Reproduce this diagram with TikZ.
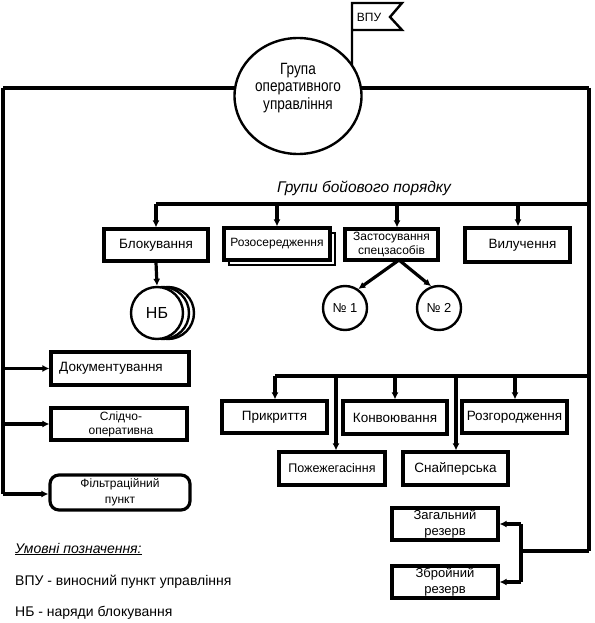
\documentclass[tikz,border=0pt]{standalone}
\usepackage{fontspec}
\setmainfont{Liberation Sans}
\usetikzlibrary{arrows.meta,shapes.geometric,calc}
\begin{document}
\begin{tikzpicture}[x=1pt,y=-1pt,
  line/.style={line width=3.2pt},
  arr/.style={line width=3.2pt,-{Latex[length=7pt,width=7pt]}},
  box/.style={draw,line width=3.2pt,fill=white,inner sep=1pt,align=center,
    font=\fontsize{13.5}{15}\selectfont},
  small/.style={font=\fontsize{12}{14}\selectfont},
  ring/.style={draw,circle,line width=2.4pt,fill=white,inner sep=0pt},
  legend/.style={anchor=west,inner sep=0pt,font=\fontsize{14}{16}\selectfont}
]
\useasboundingbox (0,0) rectangle (594,623);

% main top line
\coordinate (tl) at (3,88);
\coordinate (tr) at (589,88);
\draw[line] (tl) -- (tr);

% flag
\draw[line width=2.4pt] (352,66) -- (352,3) -- (402,3) -- (390,17) -- (402,30) -- (352,30);
\node[font=\fontsize{12}{14}\selectfont,inner sep=0pt] (vpu) at (369,17) {ВПУ};

% main circle
\node[draw,ellipse,line width=2.4pt,fill=white,minimum width=127pt,minimum height=116pt,inner sep=0pt] (cg) at (298,96) {};
\node[align=center,inner sep=0pt,yscale=1.2,transform shape,font=\fontsize{13.6}{14.5}\selectfont] (cgt) at (298,88) {Група\\оперативного\\управління};

% left and right trunks
\coordinate (lb) at (3,494);
\coordinate (rb) at (589,551);
\draw[line] (tl) -- (lb);
\draw[line] (tr) -- (rb);

% group label
\node[font=\itshape\fontsize{15.5}{17}\selectfont,inner sep=0pt] (gbp) at (364,188) {Групи бойового порядку};

% group bus
\coordinate (g1) at (156,204);
\coordinate (g2) at (589,204);
\draw[line] (g1) -- (g2);

% upper row boxes
\node[box,minimum width=104pt,minimum height=32pt] (blk) at (156,245) {Блокування};
\node[draw,line width=2.4pt,fill=white,minimum width=106pt,minimum height=32pt] (rozs) at (282,249) {};
\node[box,minimum width=106pt,minimum height=32pt,small] (roz) at (277,244) {Розосередження};
\node[box,minimum width=93pt,minimum height=31pt,font=\fontsize{12}{14}\selectfont] (zas) at (391.5,244.5) {Застосування\\спецзасобів};
\node[box,minimum width=105pt,minimum height=34pt] (vyl) at (517.5,245) {\hspace*{10pt}Вилучення};

\draw[arr] (g1) -- (blk.north);
\draw[arr] (g1 -| roz.north) -- (roz.north);
\coordinate (zt) at (397,204);
\draw[arr] (zt) -- (zt |- zas.north);
\coordinate (vt) at (518,204);
\draw[arr] (vt) -- (vt |- vyl.north);

% NB circles
\node[ring,minimum size=52pt] (nb3) at (168,313) {};
\node[ring,minimum size=52pt] (nb2) at (163,313) {};
\node[ring,minimum size=52pt,font=\fontsize{16}{18}\selectfont] (nb) at (157,313) {НБ};
\draw[arr] (blk.south) -- (nb.north);

% No 1 and No 2
\node[ring,minimum size=44pt,font=\fontsize{13}{15}\selectfont] (n1) at (345,308) {№ 1};
\node[ring,minimum size=44pt,font=\fontsize{13}{15}\selectfont] (n2) at (439,308) {№ 2};
\coordinate (zb) at (399,260);
\draw[arr] (zb) -- (n1.55);
\draw[arr] (zb) -- (n2.110);

% left boxes
\node[box,minimum width=138pt,minimum height=33pt] (doc) at (120,368.5) {Документування\hspace*{18pt}};
\node[box,minimum width=136pt,minimum height=32pt,small] (slid) at (119,424) {\hspace*{4pt}Слідчо-\\\hspace*{4pt}оперативна};
\node[box,rounded corners=9pt,minimum width=140pt,minimum height=35pt,font=\fontsize{12}{16}\selectfont] (filt) at (120,492.5) {Фільтраційний\\пункт};
\draw[arr] (tl |- doc.west) -- (doc.west);
\draw[arr] (tl |- slid.west) -- (slid.west);
\draw[arr] (lb) -- (lb -| filt.west);

% lower bus
\coordinate (b1) at (275,376);
\coordinate (b2) at (589,376);
\draw[line] (b1) -- (b2);
\node[box,minimum width=105pt,minimum height=32pt] (pryk) at (274.5,417) {Прикриття};
\node[box,minimum width=104pt,minimum height=33pt] (konv) at (395,417.5) {Конвоювання};
\node[box,minimum width=105pt,minimum height=32pt] (rozg) at (514.5,417) {Розгородження};
\node[box,minimum width=106pt,minimum height=33pt,font=\fontsize{12.5}{14}\selectfont] (pozh) at (332,468.5) {Пожежегасіння};
\node[box,minimum width=105pt,minimum height=33pt] (snai) at (455.5,468.5) {Снайперська};
\draw[arr] (b1) -- (b1 |- pryk.north);
\coordinate (b3) at (336,376);
\draw[arr] (b3) -- (b3 |- pozh.north);
\draw[arr] (b1 -| konv.north) -- (konv.north);
\coordinate (b4) at (456,376);
\draw[arr] (b4) -- (b4 |- snai.north);
\coordinate (b5) at (515,376);
\draw[arr] (b5) -- (b5 |- rozg.north);

% reserves
\node[box,minimum width=106pt,minimum height=32pt,font=\fontsize{13}{16}\selectfont] (zag) at (445,524) {Загальний\\резерв};
\node[box,minimum width=106pt,minimum height=32pt,font=\fontsize{13}{16}\selectfont] (zbr) at (445,582) {Збройний\\резерв};
\coordinate (rj) at (521,551);
\draw[line] (rb) -- (rj);
\draw[line] (rj |- zag.east) -- (rj |- zbr.east);
\draw[arr] (rj |- zag.east) -- (zag.east);
\draw[arr] (rj |- zbr.east) -- (zbr.east);

% legend
\node[legend,font=\itshape\fontsize{14}{16}\selectfont] (lg0) at (15,549) {\underline{Умовні позначення:}};
\node[legend] (lg1) at (15,582) {ВПУ - виносний пункт управління};
\node[legend] (lg2) at (15,613) {НБ - наряди блокування};
\end{tikzpicture}
\end{document}
